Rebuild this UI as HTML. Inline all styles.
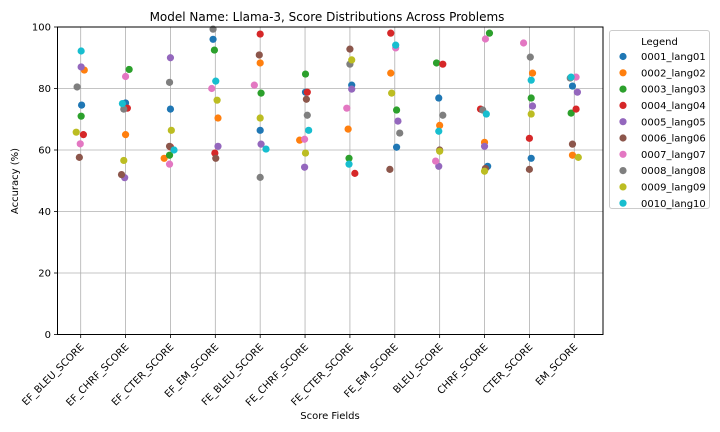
<!DOCTYPE html>
<html><head><meta charset="utf-8"><style>
html,body{margin:0;padding:0;background:#fff;}
svg{display:block;font-family:"DejaVu Sans","Liberation Sans",sans-serif;}
</style></head><body>
<svg id="chart" width="720" height="432" viewBox="0 0 720 432">
<rect x="0" y="0" width="720" height="432" fill="#fff"/>
<text x="327" y="21" font-size="12" text-anchor="middle">Model Name: Llama-3, Score Distributions Across Problems</text>
<g id="grid"></g>
<g id="marks"></g>
<rect x="57.5" y="27" width="545.5" height="307.5" fill="none" stroke="#000" stroke-width="1"/>
<g id="ticks"></g>
<text x="330" y="419" font-size="10" text-anchor="middle">Score Fields</text>
<text transform="translate(18,181) rotate(-90)" font-size="10" text-anchor="middle">Accuracy (%)</text>
<g id="legend"></g>
</svg>
<script>
const categories = ["EF_BLEU_SCORE","EF_CHRF_SCORE","EF_CTER_SCORE","EF_EM_SCORE","FE_BLEU_SCORE","FE_CHRF_SCORE","FE_CTER_SCORE","FE_EM_SCORE","BLEU_SCORE","CHRF_SCORE","CTER_SCORE","EM_SCORE"];
const seriesNames = ["0001_lang01","0002_lang02","0003_lang03","0004_lang04","0005_lang05","0006_lang06","0007_lang07","0008_lang08","0009_lang09","0010_lang10"];
const colors = ["#1f77b4","#ff7f0e","#2ca02c","#d62728","#9467bd","#8c564b","#e377c2","#7f7f7f","#bcbd22","#17becf"];
const yTicks = [0,20,40,60,80,100];
const s01 = [74.6,75.3,73.3,96,66.4,78.8,81.1,60.9,76.9,54.7,57.3,80.8];
const s02 = [86,65.0,57.3,70.4,88.3,63.2,66.8,85,68,62.5,85,58.3];
const s03 = [71,86.2,58.3,92.5,78.5,84.7,57.3,73,88.3,98,76.9,72];
const s04 = [65,73.6,61,59,97.7,78.8,52.4,98,87.9,73.3,63.8,73.3];
const s05 = [87,51.0,90,61.2,61.9,54.4,79.8,69.4,54.7,61.2,74.3,78.8];
const s06 = [57.6,52.0,61.2,57.3,90.9,76.5,92.8,53.7,60,54,53.7,61.9];
const s07 = [62,83.9,55.4,80,81.1,63.5,73.6,93.2,56.4,96.1,94.8,83.7];
const s08 = [80.5,73.3,82,99.3,51.1,71.3,87.9,65.5,71.3,73,90.2,83.4];
const s09 = [65.8,56.6,66.4,76.2,70.4,59,89.3,78.5,59.6,53.1,71.7,57.6];
const s10 = [92.2,75.1,60,82.4,60.3,66.4,55.4,94.1,66.1,71.7,82.7,83.7];
const seriesValues = [s01,s02,s03,s04,s05,s06,s07,s08,s09,s10];
// jitter in category units
const j01 = [0.02,0,0,-0.05,0,0.01,0.04,0.04,-0.02,0.07,0.04,-0.04];
const j02 = [0.08,0,-0.14,0.06,0,-0.12,-0.04,-0.09,0,0,0.07,-0.04];
const j03 = [0.01,0.08,-0.02,-0.02,0.02,0.01,-0.02,0.04,-0.07,0.11,0.04,-0.07];
const j04 = [0.06,0.04,0,-0.01,0,0.05,0.11,-0.09,0.07,-0.09,0,0.04];
const j05 = [0.01,-0.02,0,0.06,0.02,-0.01,0.04,0.07,-0.02,0,0.07,0.07];
const j06 = [-0.03,-0.09,-0.02,0.01,-0.02,0.03,0,-0.11,0,0.02,0,-0.04];
const j07 = [-0.01,0,-0.02,-0.08,-0.13,-0.01,-0.07,0.02,-0.09,0.02,-0.13,0.04];
const j08 = [-0.08,-0.04,-0.02,-0.05,0,0.05,0,0.11,0.07,-0.04,0.02,-0.09];
const j09 = [-0.10,-0.04,0.02,0.04,0,0.01,0.04,-0.07,0,0,0.04,0.09];
const j10 = [0.01,-0.07,0.08,0.01,0.13,0.08,-0.02,0.02,-0.02,0.04,0.04,-0.07];
const jitter = [j01,j02,j03,j04,j05,j06,j07,j08,j09,j10];

const NS = "http://www.w3.org/2000/svg";
const X0 = 80.7, XSTEP = 44.87;
function xScale(c){ return X0 + XSTEP*c; }
const Y0 = 334.5, Y1 = 27;
function yScale(v){ return Y0 - (v/100)*(Y0-Y1); }
function mk(tag, attrs, parent){ const e=document.createElementNS(NS,tag); for(const k in attrs) e.setAttribute(k,attrs[k]); parent.appendChild(e); return e; }

const grid = document.getElementById('grid');
const ticks = document.getElementById('ticks');
categories.forEach((c,i)=>{
  const x = xScale(i);
  const gl = mk('line',{x1:x,x2:x,y1:Y1,y2:Y0,stroke:'#b0b0b0','stroke-width':0.8},grid);
  
  
  mk('line',{x1:x,x2:x,y1:Y0,y2:Y0+3.5,stroke:'#000','stroke-width':0.8},ticks);
  const t = mk('text',{x:x-2,y:Y0+6,'font-size':10,'text-anchor':'end',transform:`rotate(-45 ${x+1} ${Y0+6})`},ticks);
  t.setAttribute('dy','0.7em');
  t.textContent = c;
  
  
});
yTicks.forEach(v=>{
  const y = yScale(v);
  const gl = mk('line',{x1:57.5,x2:603,y1:y,y2:y,stroke:'#b0b0b0','stroke-width':0.8},grid);
  
  
  mk('line',{x1:54,x2:57.5,y1:y,y2:y,stroke:'#000','stroke-width':0.8},ticks);
  const t = mk('text',{x:51,y:y+3.5,'font-size':10,'text-anchor':'end'},ticks);
  t.textContent = v;
  
  
});

const marks = document.getElementById('marks');
seriesValues.forEach((vals,s)=>{
  vals.forEach((v,i)=>{
    const p = mk('circle',{cx:xScale(i+jitter[s][i]),cy:yScale(v),r:3.6,fill:colors[s]},marks);
    
    
  });
});

const lg = document.getElementById('legend');
mk('rect',{x:609.5,y:30.5,width:100,height:178,rx:2.5,fill:'#fff',stroke:'#cccccc','stroke-width':1},lg);
const lt = mk('text',{x:659.5,y:45,'font-size':10,'text-anchor':'middle'},lg);
lt.textContent = 'Legend';


seriesNames.forEach((n,s)=>{
  const y = 56.5 + s*16.3;
  const g = mk('g',{},lg);
  
  
  mk('circle',{cx:623,cy:y,r:3.6,fill:colors[s]},g);
  const t = mk('text',{x:641,y:y+3.6,'font-size':10},g);
  t.textContent = n;
});
</script>
</body></html>
